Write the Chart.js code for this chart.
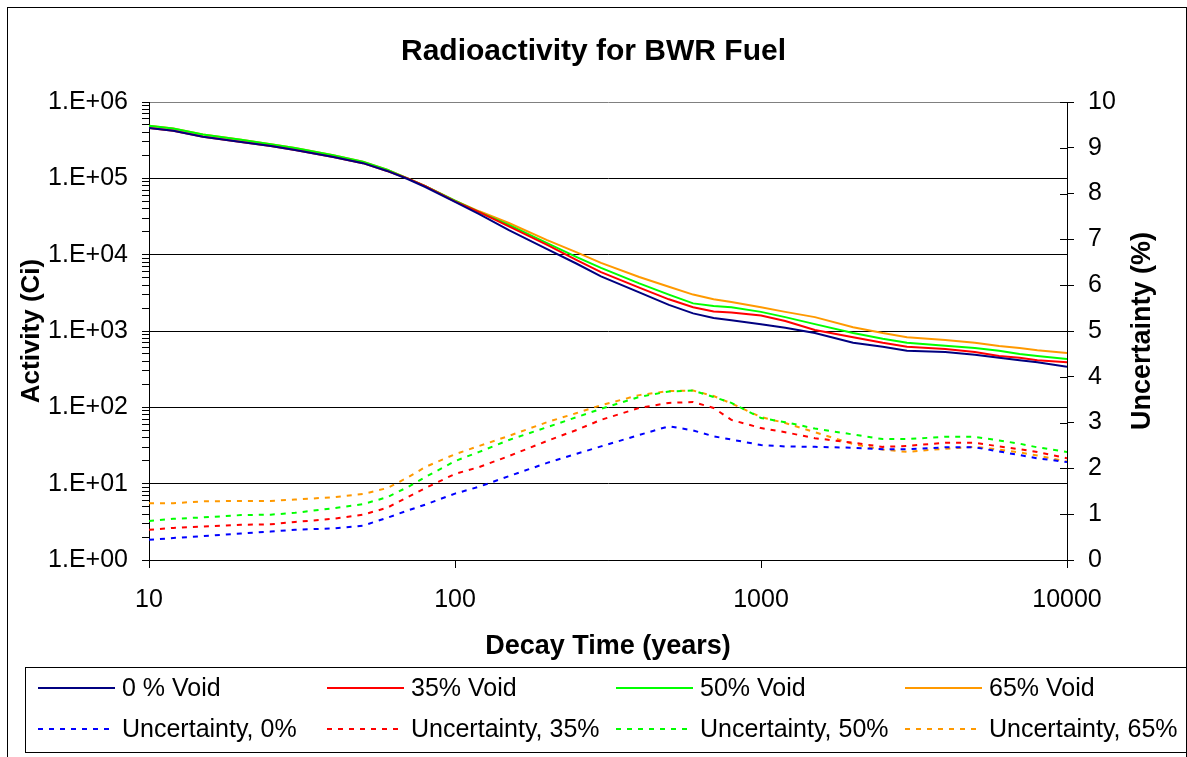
<!DOCTYPE html>
<html lang="en">
<head>
<meta charset="utf-8">
<title>Radioactivity for BWR Fuel</title>
<script src="https://cdn.jsdelivr.net/npm/chart.js"></script>
<style>
  body { margin: 0; background: #fff; }
</style>
</head>
<body>
<canvas id="chart" width="1187" height="757"></canvas>

<script>
// decay time, years
var years = [10, 12, 15, 20, 25, 30, 40, 50, 60, 70, 80, 100, 120, 150, 200, 250, 300, 400, 500, 600,
             700, 800, 1000, 1200, 1500, 2000, 2500, 3000, 4000, 5000, 6000, 7000, 8000, 10000];

// activity (Ci)
var activity0 = [4.57e5, 4.2e5, 3.5e5, 3.0e5, 2.65e5, 2.35e5, 1.9e5, 1.58e5, 1.25e5, 9.8e4, 7.7e4, 4.9e4, 3.4e4, 2.1e4,
                 1.18e4, 7.6e3, 5.2e3, 3.2e3, 2.2e3, 1.7e3, 1.48e3, 1.38e3, 1.23e3, 1.1e3, 940, 700, 620, 550, 530, 490,
                 445, 415, 390, 339];
var activity35 = [4.57e5, 4.2e5, 3.5e5, 3.0e5, 2.65e5, 2.35e5, 1.9e5, 1.58e5, 1.25e5, 1.0e5, 7.9e4, 5.0e4, 3.6e4, 2.35e4,
                  1.34e4, 8.5e3, 5.9e3, 3.7e3, 2.6e3, 2.05e3, 1.8e3, 1.75e3, 1.6e3, 1.35e3, 1.03e3, 830, 700, 620, 580, 530,
                  470, 445, 415, 390];
var activity50 = [4.9e5, 4.5e5, 3.75e5, 3.2e5, 2.8e5, 2.5e5, 2.0e5, 1.65e5, 1.3e5, 1.0e5, 7.9e4, 5.1e4, 3.6e4, 2.45e4,
                  1.42e4, 9.3e3, 6.7e3, 4.2e3, 3.0e3, 2.3e3, 2.13e3, 2.05e3, 1.78e3, 1.52e3, 1.23e3, 940, 790, 700, 640, 600,
                  550, 500, 470, 430];
var activity65 = [4.9e5, 4.5e5, 3.75e5, 3.2e5, 2.8e5, 2.5e5, 2.0e5, 1.65e5, 1.3e5, 1.0e5, 7.9e4, 5.1e4, 3.7e4, 2.6e4,
                  1.55e4, 1.07e4, 7.8e3, 5.1e3, 3.8e3, 3.0e3, 2.6e3, 2.4e3, 2.05e3, 1.78e3, 1.52e3, 1.12e3, 940, 830, 760, 700,
                  635, 600, 560, 515];

// uncertainty (%)
var unc0 = [0.44, 0.48, 0.52, 0.58, 0.62, 0.66, 0.69, 0.75, 0.92, 1.08, 1.21, 1.45, 1.60, 1.83, 2.12, 2.32, 2.48, 2.73,
            2.92, 2.83, 2.70, 2.63, 2.51, 2.48, 2.47, 2.45, 2.42, 2.42, 2.46, 2.46, 2.37, 2.29, 2.22, 2.14];
var unc35 = [0.66, 0.70, 0.73, 0.77, 0.78, 0.83, 0.90, 0.99, 1.14, 1.37, 1.57, 1.88, 2.03, 2.27, 2.60, 2.84, 3.06, 3.32,
             3.43, 3.45, 3.32, 3.06, 2.88, 2.79, 2.66, 2.56, 2.47, 2.49, 2.56, 2.56, 2.48, 2.42, 2.36, 2.22];
var unc50 = [0.85, 0.90, 0.93, 0.98, 0.99, 1.03, 1.13, 1.22, 1.37, 1.59, 1.81, 2.16, 2.36, 2.62, 2.90, 3.12, 3.30, 3.56,
             3.68, 3.70, 3.56, 3.43, 3.10, 3.01, 2.87, 2.74, 2.64, 2.64, 2.69, 2.69, 2.61, 2.54, 2.46, 2.36];
var unc65 = [1.24, 1.24, 1.28, 1.29, 1.29, 1.32, 1.37, 1.44, 1.57, 1.80, 2.03, 2.31, 2.49, 2.71, 3.01, 3.21, 3.38, 3.60,
             3.69, 3.70, 3.58, 3.42, 3.12, 2.99, 2.79, 2.53, 2.41, 2.36, 2.43, 2.47, 2.41, 2.35, 2.28, 2.15];

// axis ticks
var xTicks = [10, 100, 1000, 10000];
var yDecades = [1, 10, 100, 1000, 10000, 100000, 1000000];

function pts(values) {
    return years.map(function(x, i) { return {x: x, y: values[i]}; });
}

function isDecade(v) {
    var l = Math.log10(v);
    return Math.abs(l - Math.round(l)) < 1e-9;
}

function sci(v) {
    var e = Math.round(Math.log10(v));
    return "1.E+" + (e < 10 ? "0" : "") + e;
}

var font = "'Liberation Sans', Arial, sans-serif";
Chart.defaults.font.family = font;
Chart.defaults.color = "#000";

var solid = function(label, color, values) {
    return {label: label, data: pts(values), yAxisID: "y", borderColor: color, backgroundColor: color,
            borderWidth: 2, pointRadius: 0, fill: false, tension: 0};
};
var dotted = function(label, color, values) {
    return {label: label, data: pts(values), yAxisID: "y1", borderColor: color, backgroundColor: color,
            borderWidth: 2, borderDash: [5, 6], pointRadius: 0, fill: false, tension: 0};
};

// frame round the whole picture
var outerFrame = {
    id: "outerFrame",
    beforeDraw: function(chart) {
        var ctx = chart.ctx;
        ctx.save();
        ctx.fillStyle = "#fff";
        ctx.fillRect(0, 0, chart.width, chart.height);
        ctx.strokeStyle = "#000";
        ctx.lineWidth = 1;
        ctx.strokeRect(7.5, 7.5, chart.width - 8, chart.height + 20);
        ctx.restore();
    }
};

// right axis: ticks crossing the line, title reading upwards
var rightAxisExtras = {
    id: "rightAxisExtras",
    afterDraw: function(chart) {
        var ctx = chart.ctx, s = chart.scales.y1;
        ctx.save();
        ctx.strokeStyle = "#000";
        ctx.lineWidth = 1;
        s.ticks.forEach(function(t) {
            var y = Math.round(s.getPixelForValue(t.value)) + 0.5;
            ctx.beginPath();
            ctx.moveTo(s.left - 7, y);
            ctx.lineTo(s.left, y);
            ctx.stroke();
        });
        ctx.translate(s.right - 36, (s.top + s.bottom) / 2);
        ctx.rotate(-Math.PI / 2);
        ctx.font = "bold 27px " + font;
        ctx.fillStyle = "#000";
        ctx.textAlign = "center";
        ctx.textBaseline = "middle";
        ctx.fillText("Uncertainty (%)", 0, 0);
        ctx.restore();
    }
};

// legend box, 4 columns x 2 rows
var gridLegend = {
    id: "gridLegend",
    afterDraw: function(chart) {
        var ctx = chart.ctx;
        var top = chart.height - 90, bottom = chart.height - 5;
        var left = 25.5, right = chart.width - 0.5;
        ctx.save();
        ctx.strokeStyle = "#000";
        ctx.lineWidth = 1;
        ctx.setLineDash([]);
        ctx.strokeRect(left, top + 0.5, right - left, bottom - top);
        ctx.font = "25px " + font;
        ctx.textBaseline = "middle";
        ctx.fillStyle = "#000";
        chart.data.datasets.forEach(function(ds, i) {
            var col = i % 4, row = Math.floor(i / 4);
            var x0 = 38 + col * 289;
            var y = top + 21 + row * 41;
            ctx.strokeStyle = ds.borderColor;
            ctx.lineWidth = 2;
            ctx.setLineDash(ds.borderDash || []);
            ctx.beginPath();
            ctx.moveTo(x0, y);
            ctx.lineTo(x0 + 77, y);
            ctx.stroke();
            ctx.setLineDash([]);
            ctx.fillText(ds.label, x0 + 84, y + 1);
        });
        ctx.restore();
    }
};

var ctx = document.getElementById("chart").getContext("2d");
var myChart = new Chart(ctx, {
    type: "line",
    data: {
        datasets: [
            solid("0 % Void", "#000080", activity0),
            solid("35% Void", "#ff0000", activity35),
            solid("50% Void", "#00ff00", activity50),
            solid("65% Void", "#ff9900", activity65),
            dotted("Uncertainty, 0%", "#0000ff", unc0),
            dotted("Uncertainty, 35%", "#ff0000", unc35),
            dotted("Uncertainty, 50%", "#00ff00", unc50),
            dotted("Uncertainty, 65%", "#ff9900", unc65)
        ]
    },
    options: {
        responsive: false,
        animation: false,
        devicePixelRatio: 1,
        layout: { padding: { left: 8, right: 8, top: 0, bottom: 92 } },
        plugins: {
            legend: { display: false },
            tooltip: { enabled: false },
            title: {
                display: true,
                text: "Radioactivity for BWR Fuel",
                color: "#000",
                font: { size: 30, weight: "bold" },
                padding: { top: 34, bottom: 32 }
            }
        },
        scales: {
            x: {
                type: "logarithmic",
                position: "bottom",
                min: 10,
                max: 10000,
                afterBuildTicks: function(s) {
                    s.ticks = xTicks.map(function(v) { return {value: v, major: true}; });
                },
                afterFit: function(s) { s.height = 105; },
                ticks: {
                    autoSkip: false,
                    maxRotation: 0,
                    padding: 17,
                    font: { size: 25 },
                    color: "#000",
                    callback: function(v) { return String(v); }
                },
                grid: { drawOnChartArea: false, tickLength: 8, color: "#000" },
                border: { color: "#000", width: 1 },
                title: {
                    display: true,
                    text: "Decay Time (years)",
                    color: "#000",
                    font: { size: 27, weight: "bold" },
                    padding: { top: 0, bottom: 2 }
                }
            },
            y: {
                type: "logarithmic",
                position: "left",
                min: 1,
                max: 1000000,
                afterBuildTicks: function(s) {
                    var t = [];
                    yDecades.forEach(function(d, i) {
                        t.push({value: d, major: true});
                        if (i < yDecades.length - 1) {
                            for (var k = 2; k <= 9; k++) t.push({value: d * k, major: false});
                        }
                    });
                    s.ticks = t;
                },
                afterFit: function(s) { s.width = 141; },
                ticks: {
                    autoSkip: false,
                    padding: 14,
                    font: { size: 25 },
                    color: "#000",
                    callback: function(v) { return isDecade(v) ? sci(v) : ""; }
                },
                grid: {
                    color: function(c) {
                        if (!c.tick || !isDecade(c.tick.value)) return "rgba(0,0,0,0)";
                        return c.tick.value >= 1000000 ? "#808080" : "#000";
                    },
                    tickColor: "#000",
                    tickLength: 7,
                    lineWidth: 1
                },
                border: { color: "#000", width: 1 },
                title: {
                    display: true,
                    text: "Activity (Ci)",
                    color: "#000",
                    font: { size: 26, weight: "bold" },
                    padding: { top: 8, bottom: 0 }
                }
            },
            y1: {
                type: "linear",
                position: "right",
                min: 0,
                max: 10,
                afterFit: function(s) { s.width = 112; },
                ticks: {
                    stepSize: 1,
                    autoSkip: false,
                    padding: 14,
                    font: { size: 25 },
                    color: "#000"
                },
                grid: { drawOnChartArea: false, tickLength: 7, color: "#000" },
                border: { color: "#000", width: 1 },
                title: { display: false }
            }
        }
    },
    plugins: [outerFrame, rightAxisExtras, gridLegend]
});
</script>
</body>
</html>
